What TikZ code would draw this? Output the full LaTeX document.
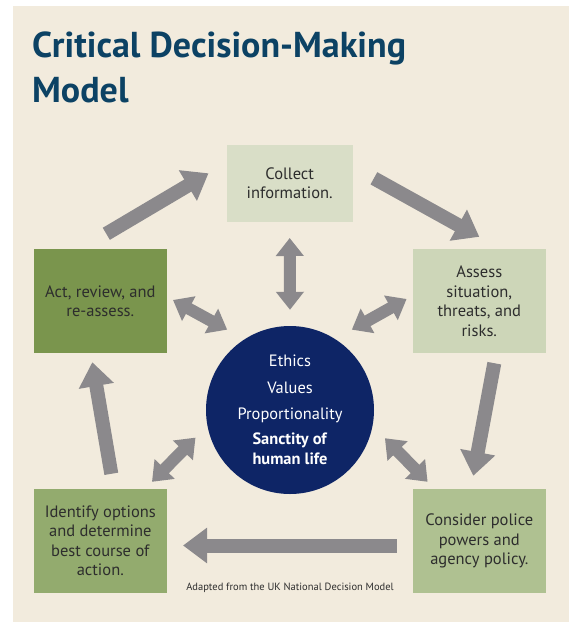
\documentclass[tikz,border=0pt]{standalone}
\usepackage{fontspec}
\setmainfont{PT Sans}
\usetikzlibrary{arrows.meta}

\definecolor{paper}{RGB}{242,235,221}
\definecolor{heading}{RGB}{12,66,100}
\definecolor{navy}{RGB}{14,37,102}
\definecolor{arrowgray}{RGB}{139,137,140}
\definecolor{inktext}{RGB}{45,45,45}
\definecolor{sageA}{RGB}{217,222,199}
\definecolor{sageB}{RGB}{205,214,184}
\definecolor{sageC}{RGB}{175,193,145}
\definecolor{sageD}{RGB}{147,171,110}
\definecolor{sageE}{RGB}{122,149,77}

\tikzset{
  box/.style={rectangle, inner sep=2pt, align=center, text=inktext,
    font=\fontsize{16.5}{19.5}\selectfont},
  flow/.style={draw=arrowgray, line width=14pt, -{Triangle[length=24pt,width=34pt]}},
  link/.style={draw=arrowgray, line width=12pt,
    {Triangle[length=18pt,width=27pt]}-{Triangle[length=18pt,width=27pt]}},
}

\begin{document}
\begin{tikzpicture}[x=1pt, y=1pt]

   \useasboundingbox (0,0) rectangle (569,-622);
   \fill[paper] (13,-6) rectangle (569,-622);

   \node[anchor=base west, align=left, inner sep=0pt, text=heading,
         font=\fontsize{36}{45}\selectfont\bfseries]
      (title) at (32,-102) {Critical Decision-Making\\Model};

   \foreach \x/\y/\w/\h/\c/\n/\t in {
       289.7/-183.3/126/77/sageA/collect/{Collect\\information.},
       479.3/-301/133/104/sageB/assess/{Assess\\situation,\\threats, and\\risks.},
       479.3/-541/133/104/sageC/consider/{Consider police\\powers and\\agency policy.},
       100.3/-541/133/104/sageD/identify/{Identify options\\and determine\\best course of\\action.},
       100.3/-301/133/104/sageE/act/{Act, review, and\\re-assess.}}
     \node [box, fill=\c, minimum width=\w pt, minimum height=\h pt]
        (\n) at (\x,\y) {\t};

   \node[circle, fill=navy, minimum size=168pt, inner sep=0pt, text=white,
         align=center, font=\fontsize{16.4}{20}\selectfont]
      (core) at (290,-410)
      {Ethics\\[7pt]Values\\[6pt]Proportionality\\[5pt]\textbf{Sanctity of}\\\textbf{human life}};

   \node[text=inktext, font=\fontsize{10.5}{12}\selectfont]
      (source) at (290,-588) {Adapted from the UK National Decision Model};

   % the cycle
   \draw[flow] ([shift={(6,15)}]act.north) -- ([shift={(-18,10)}]collect.west);
   \draw[flow] ([shift={(21,5)}]collect.east) -- ([shift={(0,12)}]assess.north);
   \draw[flow] ([shift={(15,-10)}]assess.south) -- ([shift={(-6,13)}]consider.north);
   \draw[flow] ([shift={(-16,-4.5)}]consider.west) -- ([shift={(16,-4.5)}]identify.east);
   \draw[flow] ([shift={(11,15)}]identify.north) -- ([shift={(-8,-9)}]act.south);

   % links to the core
   \draw[link] ([shift={(0,-16)}]collect.south) -- ([shift={(0,16)}]core.north);
   \draw[link] ([shift={(6,1)}]act.east) -- ([shift={(-11,14)}]core.128);
   \draw[link] ([shift={(-6,2)}]assess.west) -- ([shift={(10,14)}]core.52);
   \draw[link] ([shift={(-15,7)}]identify.north east) -- ([shift={(-14,-3)}]core.197);
   \draw[link] ([shift={(15,7)}]consider.north west) -- ([shift={(14,-5)}]core.-16);

\end{tikzpicture}
\end{document}
